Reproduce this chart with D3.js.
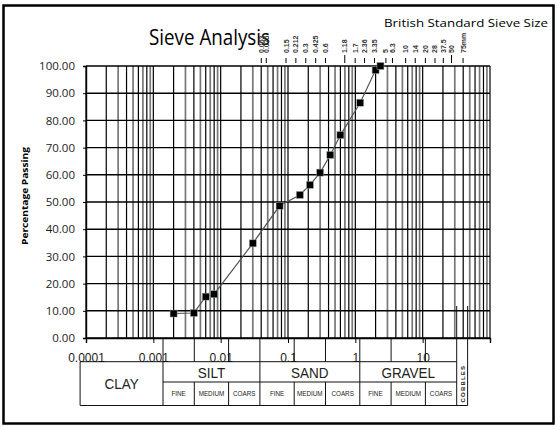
<!DOCTYPE html>
<html lang="en">
<head>
    <meta charset="UTF-8">
    <title>Sieve Analysis</title>
    <script src="https://cdn.jsdelivr.net/npm/d3@7/dist/d3.min.js" type="text/javascript"></script>
    <style>
        body { margin: 0; background: #fff; }
        svg { font-family: "Liberation Sans", Arial, sans-serif; }
    </style>
</head>
<body>
<svg width="558" height="427"></svg>
<script type="text/javascript">
// data
var sizes   = [0.002, 0.004, 0.006, 0.008, 0.03, 0.075, 0.15, 0.212, 0.3, 0.425, 0.6, 1.18, 2.0, 2.36];
var passing = [9.0, 9.2, 15.2, 16.1, 34.8, 48.6, 52.6, 56.3, 60.8, 67.3, 74.6, 86.5, 98.5, 100];

var yTicks = [0, 10, 20, 30, 40, 50, 60, 70, 80, 90, 100];
var xTicks = [0.0001, 0.001, 0.01, 0.1, 1, 10];
var xTickLabels = ["0.0001", "0.001", "0.01", "0.1", "1", "10"];

var sieveSizes  = [0.063, 0.075, 0.15, 0.212, 0.3, 0.425, 0.6, 1.18, 1.7, 2.36, 3.35, 5, 6.3, 10, 14, 20, 28, 37.5, 50, 75];
var sieveLabels = ["0.063", "0.075", "0.15", "0.212", "0.3", "0.425", "0.6", "1.18", "1.7", "2.36", "3.35", "5", "6.3", "10", "14", "20", "28", "37.5", "50", "75mm"];

var groupNames = ["CLAY", "SILT", "SAND", "GRAVEL", "COBBLES"];
var groupEdges = [0.000109, 0.002, 0.06, 2, 60, 88];
var subEdges   = [0.002, 0.006, 0.02, 0.06, 0.2, 0.6, 2, 6, 20, 60];
var subNames   = ["FINE", "MEDIUM", "COARS"];

var svg = d3.select("svg");

// frame
svg.append("rect")
    .attr("x", 3.5).attr("y", 5.5)
    .attr("width", 550).attr("height", 418)
    .attr("fill", "none").attr("stroke", "#000").attr("stroke-width", 2.5);

var x = d3.scaleLog().domain([0.0001, 100]).range([86, 490]);
var y = d3.scaleLinear().domain([0, 100]).range([338, 66]);
// the classification table + sieve ruler sit on a slightly shifted scale
var xt = d3.scaleLog().domain([0.002, 60]).range([163, 456.7]);

// vertical log grid
var gridVals = [];
for (var e = -4; e < 2; e++) {
    for (var m = 1; m <= 9; m++) gridVals.push({v: m * Math.pow(10, e), m: m});
}
gridVals.push({v: 100, m: 1});

var g = svg.append("g");
g.selectAll("line.v")
    .data(gridVals)
    .enter()
    .append("line")
    .attr("class", "v")
    .attr("x1", function(d){ return x(d.v); })
    .attr("x2", function(d){ return x(d.v); })
    .attr("y1", y(100)).attr("y2", y(0))
    .attr("stroke", function(d){ return (d.m % 2 == 1 && d.m > 1) ? "#777" : "#000"; })
    .attr("stroke-width", function(d){ return (d.m % 2 == 1 && d.m > 1) ? 1.7 : 1.2; });

g.selectAll("line.h")
    .data(yTicks)
    .enter()
    .append("line")
    .attr("class", "h")
    .attr("x1", x(0.0001)).attr("x2", x(100))
    .attr("y1", function(d){ return y(d); })
    .attr("y2", function(d){ return y(d); })
    .attr("stroke", "#000").attr("stroke-width", 1.4);

// axes
var yAxis = d3.axisLeft(y)
    .tickValues(yTicks)
    .tickSize(3)
    .tickPadding(8)
    .tickFormat(d3.format(".2f"));
var ya = svg.append("g").attr("transform", "translate(" + x(0.0001) + ",0)").call(yAxis);
ya.select(".domain").attr("stroke", "#000").attr("stroke-width", 1.4);
ya.selectAll("text").attr("font-size", 11.5).attr("fill", "#222")
    .style("font-family", "'Open Sans', sans-serif");

var xAxis = d3.axisBottom(x)
    .tickValues(xTicks)
    .tickSize(5)
    .tickPadding(10)
    .tickFormat(function(d, i){ return xTickLabels[i]; });
var xa = svg.append("g").attr("transform", "translate(0," + y(0) + ")").call(xAxis);
xa.select(".domain").attr("stroke", "#000").attr("stroke-width", 1.4);
xa.selectAll("text").attr("font-size", 12).attr("fill", "#222");

// titles
svg.append("text")
    .attr("x", 149).attr("y", 45)
    .style("font-family", "'Open Sans', sans-serif")
    .attr("font-size", 21)
    .attr("textLength", 121).attr("lengthAdjust", "spacingAndGlyphs")
    .text("Sieve Analysis");

svg.append("text")
    .attr("x", 384).attr("y", 27)
    .style("font-family", "'Open Sans', sans-serif")
    .attr("font-size", 11)
    .attr("textLength", 164).attr("lengthAdjust", "spacingAndGlyphs")
    .text("British Standard Sieve Size");

svg.append("text")
    .attr("transform", "translate(28,196) rotate(-90)")
    .attr("text-anchor", "middle")
    .style("font-family", "'Open Sans', sans-serif")
    .attr("font-size", 9).attr("font-weight", "bold")
    .attr("textLength", 98).attr("lengthAdjust", "spacingAndGlyphs")
    .text("Percentage Passing");

// sieve ruler along the top
var sv = svg.append("g");
sv.selectAll("line")
    .data(sieveSizes)
    .enter()
    .append("line")
    .attr("x1", function(d){ return xt(d); })
    .attr("x2", function(d){ return xt(d); })
    .attr("y1", function(d, i){ return (sieveLabels[i] == "1.18" || d == 50) ? 55 : 58; })
    .attr("y2", 63)
    .attr("stroke", "#000").attr("stroke-width", 1);
sv.selectAll("text")
    .data(sieveSizes)
    .enter()
    .append("text")
    .attr("transform", function(d){ return "translate(" + (xt(d) + 2.5) + ",53) rotate(-90)"; })
    .attr("font-size", 7).attr("font-weight", "bold").attr("fill", "#333")
    .text(function(d, i){ return sieveLabels[i]; });

// grading curve
var pts = sizes.map(function(d, i){ return [d, passing[i]]; });
var line = d3.line()
    .x(function(d){ return x(d[0]); })
    .y(function(d){ return y(d[1]); });
svg.append("path")
    .datum(pts)
    .attr("d", line)
    .attr("fill", "none").attr("stroke", "#555").attr("stroke-width", 1.2);
svg.selectAll("rect.pt")
    .data(pts)
    .enter()
    .append("rect")
    .attr("class", "pt")
    .attr("x", function(d){ return x(d[0]) - 3.5; })
    .attr("y", function(d){ return y(d[1]) - 3.5; })
    .attr("width", 7).attr("height", 7)
    .attr("fill", "#000").attr("stroke", "#9aa").attr("stroke-width", 0.5);

// classification table
var tb = svg.append("g").attr("stroke", "#111").attr("stroke-width", 1);
var rowTop = 339, row1 = 361.7, row2 = 382, rowBot = 405.5;
var tLeft = xt(groupEdges[0]), tRight = xt(groupEdges[groupEdges.length - 1]);

tb.append("line").attr("x1", tLeft).attr("x2", xt(60)).attr("y1", row1).attr("y2", row1);
tb.append("line").attr("x1", xt(0.002)).attr("x2", xt(60)).attr("y1", row2).attr("y2", row2);
tb.append("line").attr("x1", tLeft).attr("x2", tRight).attr("y1", rowBot).attr("y2", rowBot);
tb.append("line").attr("x1", tLeft).attr("x2", tLeft).attr("y1", row1).attr("y2", rowBot);

// sub-class dividers run through row 0 and row 2
tb.selectAll("line.sub")
    .data(subEdges)
    .enter()
    .append("line")
    .attr("x1", function(d){ return xt(d); })
    .attr("x2", function(d){ return xt(d); })
    .attr("y1", function(d){ return (d == 60) ? 306 : rowTop; })
    .attr("y2", row1);
tb.selectAll("line.sub2")
    .data(subEdges)
    .enter()
    .append("line")
    .attr("x1", function(d){ return xt(d); })
    .attr("x2", function(d){ return xt(d); })
    .attr("y1", row2).attr("y2", rowBot);
// main class dividers through header row
tb.selectAll("line.main")
    .data(groupEdges.slice(1, 5))
    .enter()
    .append("line")
    .attr("x1", function(d){ return xt(d); })
    .attr("x2", function(d){ return xt(d); })
    .attr("y1", row1).attr("y2", row2);
tb.append("line").attr("x1", tRight).attr("x2", tRight).attr("y1", 306).attr("y2", rowBot);

// group names
var lab = svg.append("g").attr("fill", "#222").attr("text-anchor", "middle");
groupNames.forEach(function(n, i){
    var cx = (xt(groupEdges[i]) + xt(groupEdges[i + 1])) / 2;
    if (n == "CLAY") {
        lab.append("text").attr("x", cx).attr("y", 389).attr("font-size", 15)
            .attr("transform", "translate(" + cx + ",0) scale(0.9,1) translate(" + (-cx) + ",0)").text(n);
    } else if (n == "COBBLES") {
        lab.append("text")
            .attr("transform", "translate(" + (cx + 2.5) + "," + ((row1 + rowBot) / 2) + ") rotate(-90)")
            .attr("font-size", 6).attr("font-weight", "bold").attr("letter-spacing", 1.2).text(n);
    } else {
        lab.append("text").attr("x", cx).attr("y", 378.5).attr("font-size", 15)
            .attr("transform", "translate(" + cx + ",0) scale(0.9,1) translate(" + (-cx) + ",0)").text(n);
    }
});
for (var k = 0; k < subEdges.length - 1; k++) {
    var c = (xt(subEdges[k]) + xt(subEdges[k + 1])) / 2;
    lab.append("text").attr("x", c).attr("y", 396).attr("font-size", 6.3)
        .text(subNames[k % 3]);
}
</script>
</body>
</html>
